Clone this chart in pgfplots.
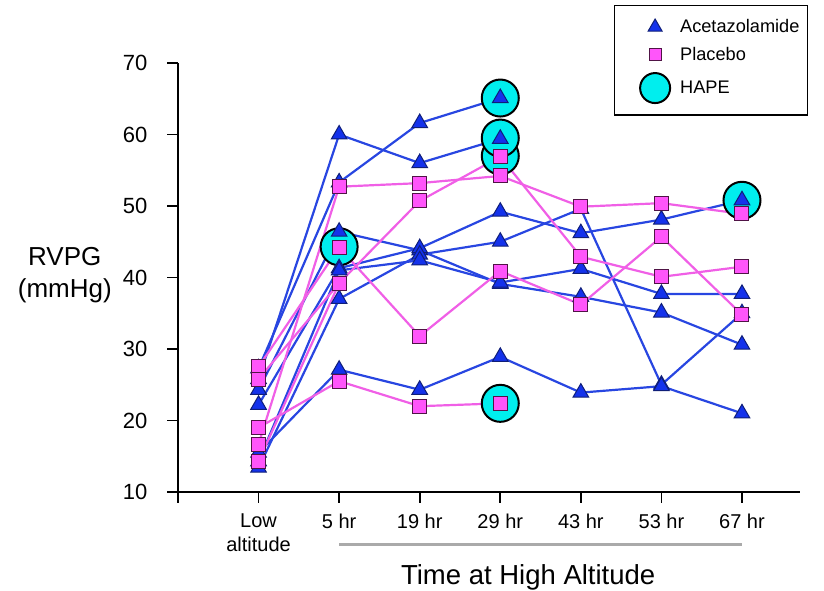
\documentclass[border=0pt]{standalone}
\usepackage{pgfplots}
\pgfplotsset{compat=1.18}
\usepackage{pgfplotstable}
\usepackage{fontspec}
\setmainfont{Liberation Sans}
\definecolor{blueline}{RGB}{40,70,225}
\definecolor{bluefill}{RGB}{20,50,235}
\definecolor{blueedge}{RGB}{15,30,120}
\definecolor{pinkline}{RGB}{240,95,230}
\definecolor{pinkfill}{RGB}{255,85,250}
\definecolor{pinkedge}{RGB}{80,20,70}
\definecolor{hapefill}{RGB}{0,238,238}
\pgfplotstableread{
x y
0 25.8
1 60.0
2 56.0
3 59.4
}\Aone
\pgfplotstableread{
x y
0 27.3
1 53.3
2 61.6
3 65.1
}\Atwo
\pgfplotstableread{
x y
0 24.3
1 46.4
2 43.8
3 39.1
4 37.3
5 35.1
6 30.6
}\Athree
\pgfplotstableread{
x y
0 22.2
1 41.3
2 44.1
3 49.2
4 46.2
5 48.1
6 50.8
}\Afour
\pgfplotstableread{
x y
0 13.4
1 37.0
2 43.2
3 45.0
4 49.6
5 25.0
6 35.0
}\Afive
\pgfplotstableread{
x y
0 14.3
1 41.0
2 42.4
3 39.3
4 41.2
5 37.7
6 37.7
}\Asix
\pgfplotstableread{
x y
0 15.5
1 27.1
2 24.3
3 28.9
4 23.9
5 24.8
6 21.0
}\Aseven
\pgfplotstableread{
x y
0 16.7
1 52.7
2 53.2
3 54.2
4 49.9
5 50.4
6 48.9
}\Pone
\pgfplotstableread{
x y
0 14.3
1 39.2
2 50.7
3 56.9
4 42.9
5 40.1
6 41.5
}\Ptwo
\pgfplotstableread{
x y
0 27.5
1 44.2
2 31.8
3 40.9
4 36.2
5 45.7
6 34.8
}\Pthree
\pgfplotstableread{
x y
0 25.8
1 39.2
}\Pfour
\pgfplotstableread{
x y
0 19.0
1 25.5
2 22.0
3 22.4
}\Pfive
\pgfplotstableread{
x y
1 44.3
3 57.0
3 59.5
3 65.1
3 22.4
6 50.8
}\Hape
\pgfplotsset{
  bl/.style={blueline, line width=2.2pt, no marks},
  pl/.style={pinkline, line width=2.2pt, no marks},
  bm/.style={only marks, mark=triangle*, mark size=9pt, mark options={fill=bluefill, draw=blueedge, line width=1pt}},
  pm/.style={only marks, mark=square*, mark size=7pt, mark options={fill=pinkfill, draw=pinkedge, line width=1pt}},
  legmark/.style={legend image code/.code={\path (0pt,-4pt) (46pt,4pt); \draw[##1] plot coordinates {(34pt,0pt)};}},
}
\begin{document}
\begin{tikzpicture}[x=1pt,y=1pt]
\useasboundingbox (0,0) rectangle (824,591);
\begin{axis}[
  at={(178pt,99pt)}, anchor=south west,
  scale only axis, width=622pt, height=429pt,
  xmin=-1, xmax=6.72, ymin=10, ymax=70,
  axis x line*=bottom, axis y line*=left,
  axis line style={-, line width=1.8pt, black},
  tick style={line width=1.8pt, black},
  tick align=outside, major tick length=11pt,
  xtick={-1,0,1,2,3,4,5,6},
  xticklabels={,Low\\altitude,5 hr,19 hr,29 hr,43 hr,53 hr,67 hr},
  xticklabel style={align=center, font=\fontsize{20}{24}\selectfont, yshift=-7pt},
  ytick={10,20,30,40,50,60,70},
  yticklabel style={font=\fontsize{22}{24}\selectfont, xshift=-16pt},
  /pgf/number format/assume math mode=true,
  ylabel={RVPG\\(mmHg)},
  ylabel style={rotate=-90, align=center, font=\fontsize{26}{32}\selectfont, at={(axis description cs:-0.182,0.505)}, anchor=center},
  xlabel={Time at High Altitude},
  xlabel style={font=\fontsize{27.5}{30}\selectfont, at={(axis description cs:0.563,-0.2)}, anchor=center},
  clip=false,
  legend style={at={(axis description cs:1.013,1.135)}, anchor=north east, draw=black, line width=1.2pt,
    font=\fontsize{18.2}{22}\selectfont, row sep=9pt, inner xsep=6pt, inner ysep=12pt,
    /tikz/every odd column/.append style={column sep=8pt}},
  legend cell align=left,
  every axis plot/.append style={forget plot},
]
\draw[color={rgb,255:red,170;green,170;blue,170}, line width=3pt] (axis cs:1,2.6) -- (axis cs:6,2.6);
% lines
\addplot[bl] table[x=x,y=y] {\Aone};
\addplot[bl] table[x=x,y=y] {\Atwo};
\addplot[bl] table[x=x,y=y] {\Athree};
\addplot[bl] table[x=x,y=y] {\Afour};
\addplot[bl] table[x=x,y=y] {\Afive};
\addplot[bl] table[x=x,y=y] {\Asix};
\addplot[bl] table[x=x,y=y] {\Aseven};
\addplot[pl] table[x=x,y=y] {\Pone};
\addplot[pl] table[x=x,y=y] {\Ptwo};
\addplot[pl] table[x=x,y=y] {\Pthree};
\addplot[pl] table[x=x,y=y] {\Pfour};
\addplot[pl] table[x=x,y=y] {\Pfive};
% HAPE circles
\addplot[only marks, mark=*, mark size=18.5pt, mark options={fill=hapefill, draw=black, line width=2pt}] table[x=x,y=y] {\Hape};
% triangles
\addplot[bm] table[x=x,y=y] {\Aone};
\addplot[bm] table[x=x,y=y] {\Atwo};
\addplot[bm] table[x=x,y=y] {\Athree};
\addplot[bm] table[x=x,y=y] {\Afour};
\addplot[bm] table[x=x,y=y] {\Afive};
\addplot[bm] table[x=x,y=y] {\Asix};
\addplot[bm] table[x=x,y=y] {\Aseven};
% squares
\addplot[pm] table[x=x,y=y] {\Pone};
\addplot[pm] table[x=x,y=y] {\Ptwo};
\addplot[pm] table[x=x,y=y] {\Pthree};
\addplot[pm] table[x=x,y=y] {\Pfour};
\addplot[pm] table[x=x,y=y] {\Pfive};
\addlegendimage{legmark, only marks, mark=triangle*, mark size=8pt, mark options={fill=bluefill, draw=blueedge, line width=1pt}}
\addlegendentry{Acetazolamide}
\addlegendimage{legmark, only marks, mark=square*, mark size=6pt, mark options={fill=pinkfill, draw=pinkedge, line width=1pt}}
\addlegendentry{Placebo}
\addlegendimage{legmark, only marks, mark=*, mark size=15pt, mark options={fill=hapefill, draw=black, line width=2pt}}
\addlegendentry{HAPE}
\end{axis}
\end{tikzpicture}
\end{document}
